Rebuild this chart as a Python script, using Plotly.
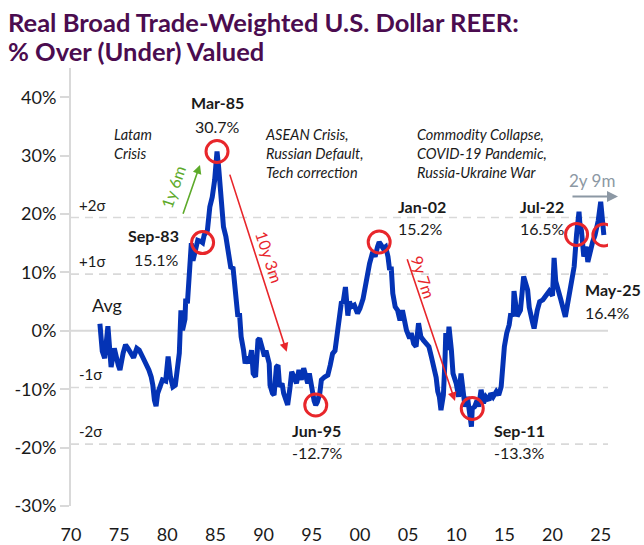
import plotly.graph_objects as go

# ---- data -------------------------------------------------------------
dates = [
    "1973-01", "1973-04", "1973-07", "1973-11", "1974-03", "1974-07", "1974-12",
    "1975-02", "1975-06", "1975-09", "1975-12", "1976-04", "1976-07", "1976-11",
    "1977-02", "1977-06", "1977-11", "1978-02", "1978-05", "1978-07", "1978-09",
    "1978-11", "1979-01", "1979-05", "1979-07", "1979-11", "1980-02", "1980-05",
    "1980-08", "1980-11", "1981-02", "1981-04", "1981-06", "1981-08", "1981-11",
    "1981-12", "1982-02", "1982-05", "1982-07", "1982-09", "1983-01", "1983-03",
    "1983-07", "1983-09", "1983-11", "1984-03", "1984-06", "1984-09", "1984-12",
    "1985-03", "1985-05", "1985-06", "1985-08", "1985-11", "1986-02", "1986-05",
    "1986-08", "1986-11", "1987-01", "1987-03", "1987-05", "1987-07", "1987-09",
    "1987-12", "1988-02", "1988-05", "1988-07", "1988-10", "1988-12", "1989-03",
    "1989-06", "1989-08", "1989-10", "1989-12", "1990-02", "1990-04", "1990-08",
    "1990-09", "1990-12", "1991-02", "1991-05", "1991-07", "1991-09", "1991-12",
    "1992-02", "1992-04", "1992-07", "1992-10", "1992-12", "1993-03", "1993-06",
    "1993-09", "1993-12", "1994-03", "1994-05", "1994-08", "1994-10", "1994-12",
    "1995-02", "1995-04", "1995-06", "1995-08", "1995-11", "1996-01", "1996-05",
    "1996-09", "1996-12", "1997-03", "1997-06", "1997-09", "1997-12", "1998-02",
    "1998-04", "1998-07", "1998-10", "1998-12", "1999-02", "1999-06", "1999-10",
    "2000-01", "2000-05", "2000-09", "2000-11", "2001-01", "2001-05", "2001-08",
    "2001-11", "2002-01", "2002-03", "2002-06", "2002-09", "2002-12", "2003-02",
    "2003-04", "2003-06", "2003-09", "2003-12", "2004-03", "2004-06", "2004-09",
    "2004-11", "2005-03", "2005-05", "2005-08", "2005-11", "2006-02", "2006-05",
    "2006-08", "2006-12", "2007-03", "2007-06", "2007-09", "2007-12", "2008-02",
    "2008-04", "2008-06", "2008-09", "2008-11", "2008-12", "2009-02", "2009-04",
    "2009-07", "2009-09", "2010-01", "2010-04", "2010-07", "2010-09", "2010-12",
    "2011-03", "2011-06", "2011-08", "2011-09", "2011-12", "2012-03", "2012-05",
    "2012-08", "2012-11", "2013-02", "2013-06", "2013-08", "2013-11", "2014-03",
    "2014-06", "2014-09", "2014-11", "2015-01", "2015-04", "2015-07", "2015-09",
    "2015-12", "2016-01", "2016-05", "2016-09", "2016-11", "2017-01", "2017-06",
    "2017-08", "2017-12", "2018-02", "2018-06", "2018-09", "2019-01", "2019-05",
    "2019-09", "2020-01", "2020-03", "2020-05", "2020-08", "2020-11", "2021-05",
    "2021-09", "2021-12", "2022-04", "2022-07", "2022-08", "2022-10", "2022-11",
    "2023-01", "2023-04", "2023-07", "2023-09", "2023-12", "2024-03", "2024-06",
    "2024-10", "2025-01", "2025-03", "2025-05",
]

reer_gap = [
    1.2, -3.5, -4.7, 0.8, -6.2, -3.0, -5.9,
    -6.7, -3.8, -2.4, -3.0, -3.8, -4.6, -3.0,
    -3.3, -4.4, -5.6, -6.7, -7.9, -9.3, -11.9,
    -12.9, -10.7, -9.3, -8.4, -8.6, -4.4, -7.9,
    -9.6, -9.3, -6.0, -3.8, 3.5, 0.1, 2.0,
    5.5, 4.7, 9.5, 15.0, 12.0, 14.4, 15.5,
    15.3, 15.1, 16.4, 17.2, 21.2, 22.9, 25.8,
    30.7, 28.0, 25.8, 22.9, 17.8, 16.1, 12.7,
    10.9, 10.7, 8.1, 5.8, 2.4, 3.0, -1.0,
    -3.3, -5.6, -4.4, -5.6, -3.3, -7.3, -7.9,
    -1.6, -1.3, -2.7, -3.3, -4.4, -3.4, -5.6,
    -9.3, -10.7, -11.0, -6.2, -5.9, -9.6, -9.0,
    -10.7, -11.3, -12.7, -9.6, -7.0, -7.9, -9.0,
    -6.7, -8.4, -6.4, -7.3, -9.0, -7.3, -9.0,
    -10.4, -12.0, -12.7, -12.2, -10.7, -8.4, -7.9,
    -7.6, -5.9, -3.9, -3.4, -0.4, 3.0, 5.0,
    4.7, 7.5, 2.6, 5.0, 4.1, 4.4, 3.0,
    3.8, 5.5, 8.7, 9.8, 11.5, 13.5, 12.7,
    14.4, 15.2, 14.8, 14.1, 14.4, 12.7, 10.4,
    11.0, 6.4, 4.1, 3.5, 1.8, 3.5, 0.7,
    0.1, -1.3, -0.4, -2.2, -2.7, 1.3, -1.0,
    -1.6, -2.2, -2.7, -4.4, -6.0, -8.0, -10.4,
    -11.3, -13.6, -11.0, -5.0, -0.4, -3.3, 0.7,
    -3.3, -7.3, -9.0, -11.3, -7.3, -9.6, -13.0,
    -11.3, -15.3, -16.4, -13.3, -13.0, -11.9, -13.0,
    -10.1, -12.4, -11.3, -11.9, -10.7, -11.3, -10.4,
    -11.0, -9.6, -6.2, -2.7, -0.4, 1.0, 3.0,
    2.5, 6.8, 2.5, 3.5, 6.8, 9.3, 7.0,
    4.0, 1.5, 0.4, 3.5, 5.0, 5.3, 6.0,
    6.8, 6.0, 12.5, 8.5, 6.5, 5.5, 2.4,
    5.8, 8.1, 11.0, 16.5, 18.0, 20.4, 18.5,
    17.2, 12.7, 14.4, 11.8, 14.1, 15.2, 16.4,
    18.9, 22.1, 18.9, 16.4,
]

# highlighted turning points
hl_dates = ["1983-09", "1985-03", "1995-06", "2002-01", "2011-09", "2022-07", "2025-05"]
hl_names = ["Sep-83", "Mar-85", "Jun-95", "Jan-02", "Sep-11", "Jul-22", "May-25"]
hl_values = [reer_gap[dates.index(d)] for d in hl_dates]

sigma = 9.7  # one standard deviation of the gap

x_tick_years = list(range(1970, 2030, 5))
x_tick_labels = ["70", "75", "80", "85", "90", "95", "00", "05", "10", "15", "20", "25"]
y_tick_values = [-30, -20, -10, 0, 10, 20, 30, 40]
y_tick_labels = [f"{v}%" for v in y_tick_values]

# ---- styling ----------------------------------------------------------
BLUE = "#0433B5"
RED = "#E8262B"
GREEN = "#5DAA2A"
GREY_ARROW = "#8C98A4"
GRID = "#D9D9D9"
TEXT = "#1A1A1A"
TITLE = "#4B0C4F"
FONT = "Lato"

fig = go.Figure()

fig.add_trace(go.Scatter(
    x=dates, y=reer_gap, mode="lines",
    line=dict(color=BLUE, width=5),
    showlegend=False,
))

fig.add_trace(go.Scatter(
    x=hl_dates, y=hl_values, mode="markers",
    marker=dict(symbol="circle-open", size=22, color=RED, line=dict(width=3, color=RED)),
    showlegend=False,
))

shapes = [dict(type="line", xref="paper", x0=0, x1=1, yref="y", y0=0, y1=0,
               line=dict(color=GRID, width=2), layer="below")]
for k in (-2, -1, 1, 2):
    shapes.append(dict(type="line", xref="paper", x0=0, x1=1, yref="y",
                       y0=k * sigma, y1=k * sigma,
                       line=dict(color=GRID, width=1.6, dash="8px,6px"), layer="below"))

ann = []

# chart title, two lines
title_font = dict(family=FONT, size=25.5, color=TITLE, weight="bold")
ann.append(dict(text="Real Broad Trade-Weighted U.S. Dollar REER:", xref="paper", yref="paper",
                x=-0.121, y=1.106, xanchor="left", yanchor="middle", showarrow=False,
                font=title_font))
ann.append(dict(text="% Over (Under) Valued", xref="paper", yref="paper",
                x=-0.121, y=1.038, xanchor="left", yanchor="middle", showarrow=False,
                font=title_font))

# turning-point labels: (xanchor, xshift, name yshift, value yshift)
label_pos = {
    "Sep-83": ("right", -22, 7, -17),
    "Mar-85": ("center", 0, 49, 25),
    "Jun-95": ("left", -26, -26, -48),
    "Jan-02": ("left", 17, 36, 14),
    "Sep-11": ("left", 20, -22, -44),
    "Jul-22": ("left", -59, 28, 6),
    "May-25": ("left", -21, -54, -77),
}
for d, name, v in zip(hl_dates, hl_names, hl_values):
    anchor, xs, ys_name, ys_val = label_pos[name]
    ann.append(dict(x=d, y=v, xref="x", yref="y", text=f"<b>{name}</b>", showarrow=False,
                    xanchor=anchor, yanchor="middle", xshift=xs, yshift=ys_name,
                    font=dict(family=FONT, size=16, color=TEXT)))
    ann.append(dict(x=d, y=v, xref="x", yref="y", text=f"{v:.1f}%", showarrow=False,
                    xanchor=anchor, yanchor="middle", xshift=xs, yshift=ys_val,
                    font=dict(family=FONT, size=16, color=TEXT)))

# episode notes
notes = [
    (0.0764, 0.8258, "Latam<br>Crisis"),
    (0.357, 0.8043, "ASEAN Crisis,<br>Russian Default,<br>Tech correction"),
    (0.6406, 0.8043, "Commodity Collapse,<br>COVID-19 Pandemic,<br>Russia-Ukraine War"),
]
for nx, ny, t in notes:
    ann.append(dict(x=nx, y=ny, xref="paper", yref="paper", text=f"<i>{t}</i>", align="left",
                    showarrow=False, xanchor="left", yanchor="middle",
                    font=dict(family=FONT, size=14.5, color=TEXT)))

# sigma band labels
for k, lab in ((2, "+2σ"), (1, "+1σ"), (-1, "-1σ"), (-2, "-2σ")):
    ann.append(dict(x=0.011, y=k * sigma, xref="paper", yref="y", text=lab, showarrow=False,
                    xanchor="left", yanchor="bottom", yshift=2,
                    font=dict(family=FONT, size=15, color=TEXT)))

ann.append(dict(x="1972-01-01", y=0, xref="x", yref="y", text="Avg", showarrow=False,
                xanchor="left", yanchor="bottom", yshift=13,
                font=dict(family=FONT, size=18, color=TEXT)))

# duration arrows
arrows = [
    ("1981-08-01", 19.8, "1983-05-25", 28.4, GREEN),
    ("1986-06-10", 27.0, "1992-05-25", -3.6, RED),
    ("2004-11-10", 12.5, "2009-11-15", -12.0, RED),
]
for tx, ty, hx, hy, col in arrows:
    ann.append(dict(x=hx, y=hy, ax=tx, ay=ty, xref="x", yref="y", axref="x", ayref="y",
                    text="", showarrow=True, arrowhead=2, arrowsize=1.1, arrowwidth=1.6,
                    arrowcolor=col, standoff=0, startstandoff=0))
ann.append(dict(x=1.0186, y=23.0, ax=-47, ay=0, xref="paper", yref="y",
                text="", showarrow=True, arrowhead=2, arrowsize=1.1, arrowwidth=2,
                arrowcolor=GREY_ARROW, standoff=0))

arrow_labels = [
    ("1980-08-10", 24.7, "1y 6m", -71, GREEN),
    ("1990-08-25", 12.6, "10y 3m", 72, RED),
    ("2006-08-25", 9.2, "9y 7m", 72, RED),
    ("2024-01-20", 25.8, "2y 9m", 0, GREY_ARROW),
]
for lx, ly, t, ang, col in arrow_labels:
    ann.append(dict(x=lx, y=ly, xref="x", yref="y", text=t, textangle=ang, showarrow=False,
                    xanchor="center", yanchor="middle",
                    font=dict(family=FONT, size=16 if ang else 17, color=col)))

fig.update_layout(
    width=644, height=545,
    margin=dict(l=71, r=36, t=68, b=39),
    paper_bgcolor="white", plot_bgcolor="white",
    shapes=shapes, annotations=ann,
    showlegend=False,
    xaxis=dict(
        type="date",
        range=["1970-01-01", "2025-10-05"],
        tickvals=[f"{y}-01-01" for y in x_tick_years],
        ticktext=x_tick_labels,
        showgrid=False, zeroline=False, showline=False, ticks="",
        automargin=False,
        ticklabelstandoff=16,
        tickfont=dict(family=FONT, size=18, color=TEXT),
    ),
    yaxis=dict(
        range=[-30, 45],
        tickvals=y_tick_values, ticktext=y_tick_labels,
        showgrid=False, zeroline=False, automargin=False,
        showline=True, linecolor=GRID, linewidth=2,
        ticks="outside", ticklen=9, tickwidth=2, tickcolor=GRID,
        tickfont=dict(family=FONT, size=18, color=TEXT),
    ),
)

fig.write_html("out.html")
